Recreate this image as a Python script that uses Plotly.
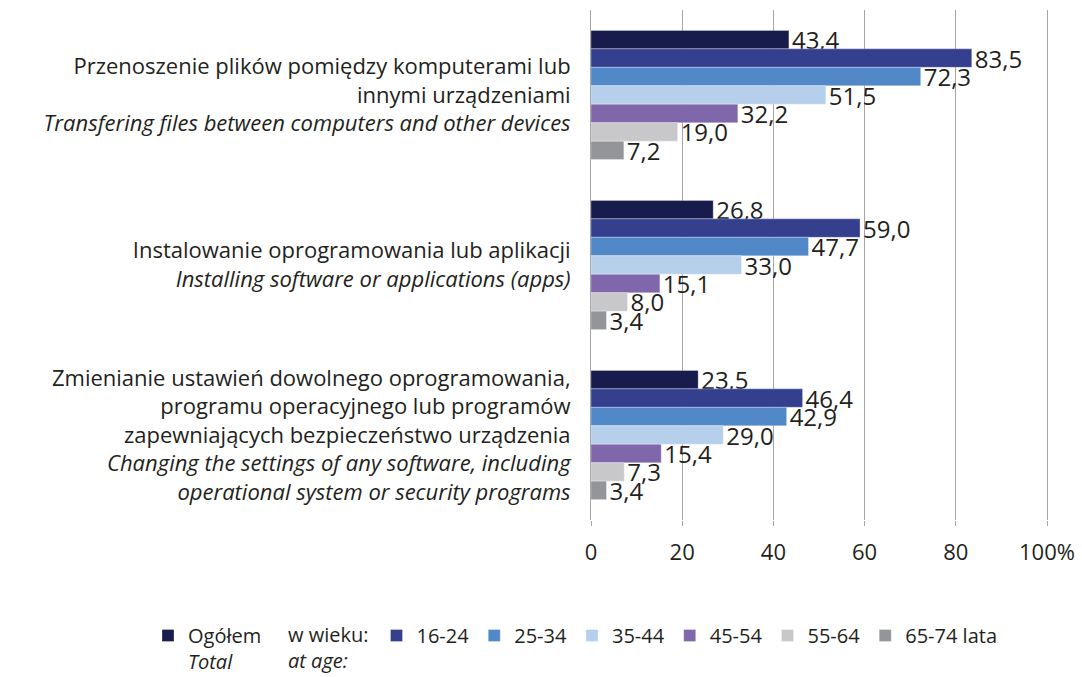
import plotly.graph_objects as go

# Activities (top to bottom) and share of internet users (%) by age group
categories = [
    "Przenoszenie plików pomiędzy komputerami lub<br>innymi urządzeniami<br>"
    "<i>Transfering files between computers and other devices</i>",
    "Instalowanie oprogramowania lub aplikacji<br>"
    "<i>Installing software or applications (apps)</i>",
    "Zmienianie ustawień dowolnego oprogramowania,<br>"
    "programu operacyjnego lub programów<br>"
    "zapewniających bezpieczeństwo urządzenia<br>"
    "<i>Changing the settings of any software, including</i><br>"
    "<i>operational system or security programs</i>",
]

series_names = ["Ogółem<br><i>Total</i>", "16-24", "25-34", "35-44", "45-54", "55-64", "65-74 lata"]
series_colors = ["#171c4c", "#343f8e", "#5088c8", "#b6d0ec", "#8066aa", "#c8c8ca", "#939598"]

total = [43.4, 26.8, 23.5]
age_16_24 = [83.5, 59.0, 46.4]
age_25_34 = [72.3, 47.7, 42.9]
age_35_44 = [51.5, 33.0, 29.0]
age_45_54 = [32.2, 15.1, 15.4]
age_55_64 = [19.0, 8.0, 7.3]
age_65_74 = [7.2, 3.4, 3.4]
series_values = [total, age_16_24, age_25_34, age_35_44, age_45_54, age_55_64, age_65_74]

tick_vals = [0, 20, 40, 60, 80, 100]
tick_text = ["0", "20", "40", "60", "80", "100%"]

FONT = "Open Sans"
TEXT_COLOR = "#231f20"
GRID = "#a6a6a6"

# plot area: 591..1047 px wide, 10..520 px tall
PLOT_LEFT, PLOT_W = 591, 456
PLOT_BOTTOM, PLOT_H = 520, 510
legend_top = (PLOT_BOTTOM - 616) / PLOT_H


def paper_x(px):
    return (px - PLOT_LEFT) / PLOT_W


fig = go.Figure()
for i, (name, color, vals) in enumerate(zip(series_names, series_colors, series_values)):
    fig.add_trace(go.Bar(
        y=categories,
        x=vals,
        name=name,
        orientation="h",
        marker=dict(color=color, line=dict(color="rgba(255,255,255,0.6)", width=0.5)),
        texttemplate="%{x:.1f}",
        textposition="outside",
        textfont=dict(family=FONT, size=24, color=TEXT_COLOR),
        cliponaxis=False,
        constraintext="none",
        legend="legend" if i == 0 else "legend2",
        hoverinfo="skip",
    ))

fig.update_layout(
    width=1082,
    height=677,
    margin=dict(l=591, r=35, t=10, b=157, autoexpand=False),
    paper_bgcolor="white",
    plot_bgcolor="white",
    barmode="group",
    bargap=0.24,
    bargroupgap=0,
    separators=", ",
    font=dict(family=FONT, size=20, color=TEXT_COLOR),
    xaxis=dict(
        range=[0, 100],
        tickvals=tick_vals,
        ticktext=tick_text,
        showgrid=True,
        gridcolor=GRID,
        gridwidth=1,
        zeroline=False,
        showline=False,
        ticks="outside",
        ticklen=5,
        tickcolor=GRID,
        ticklabelstandoff=8,
        tickfont=dict(family=FONT, size=22, color=TEXT_COLOR),
        fixedrange=True,
        automargin=False,
    ),
    yaxis=dict(
        autorange="reversed",
        showgrid=False,
        showline=True,
        mirror=True,
        linecolor=GRID,
        linewidth=1,
        ticks="",
        ticklabelstandoff=15,
        tickfont=dict(family=FONT, size=22, color=TEXT_COLOR),
        fixedrange=True,
        automargin=False,
    ),
    legend=dict(
        orientation="h",
        xref="paper", yref="paper",
        x=paper_x(148), y=legend_top,
        xanchor="left", yanchor="top",
        valign="top",
        font=dict(family=FONT, size=20, color=TEXT_COLOR),
        itemwidth=30,
        tracegroupgap=0,
    ),
    legend2=dict(
        orientation="h",
        xref="paper", yref="paper",
        x=paper_x(286), y=legend_top,
        xanchor="left", yanchor="top",
        valign="top",
        title=dict(text="w wieku:<br><i>at age:</i>", side="left",
                   font=dict(family=FONT, size=20, color=TEXT_COLOR)),
        font=dict(family=FONT, size=20, color=TEXT_COLOR),
        itemwidth=30,
    ),
    showlegend=True,
)

fig.write_html("out.html")
